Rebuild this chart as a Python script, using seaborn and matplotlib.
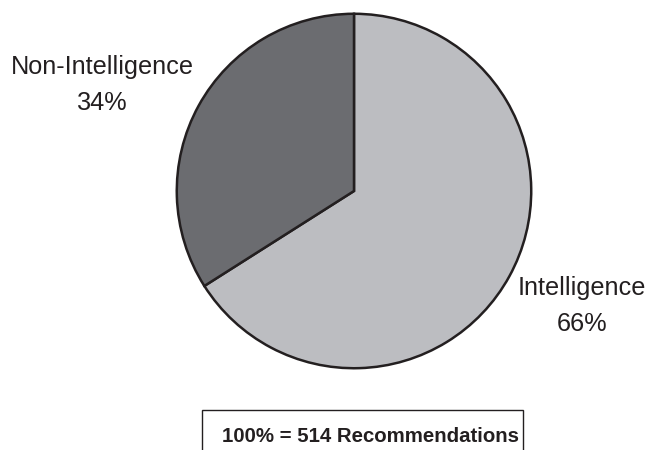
import matplotlib
matplotlib.use("Agg")
import matplotlib.pyplot as plt
import matplotlib.patches as mpatches
import seaborn as sns

categories = ["Intelligence", "Non-Intelligence"]
shares = [66, 34]
colors = ["#bcbdc1", "#6b6c70"]
total_note = "100% = 514 Recommendations"

sns.set_theme(style="white")
plt.rcParams["font.family"] = ["Liberation Sans", "DejaVu Sans"]

W, H = 651, 450
fig = plt.figure(figsize=(W / 100, H / 100), dpi=100)
cx, cy, r = 354, 191, 179
ax = fig.add_axes([(cx - r) / W, (H - cy - r) / H, 2 * r / W, 2 * r / H])
ax.pie(shares, colors=colors, startangle=90, counterclock=False,
       wedgeprops=dict(edgecolor="#231f20", linewidth=1.8))
ax.set_xlim(-1.01, 1.01)
ax.set_ylim(-1.01, 1.01)
ax.set_aspect("equal")
ax.axis("off")

def fx(x):
    return x / W

def fy(y):
    return 1 - y / H

fs = 18.2
fig.text(fx(102), fy(67), categories[1], ha="center", va="center",
         fontsize=fs, color="#231f20")
fig.text(fx(102), fy(103), f"{shares[1]}%", ha="center", va="center",
         fontsize=fs, color="#231f20")
fig.text(fx(582), fy(288), categories[0], ha="center", va="center",
         fontsize=fs, color="#231f20")
fig.text(fx(582), fy(324), f"{shares[0]}%", ha="center", va="center",
         fontsize=fs, color="#231f20")

rect = mpatches.Rectangle((fx(202), fy(470)), fx(523) - fx(202), fy(410) - fy(470),
                          transform=fig.transFigure, fill=False,
                          edgecolor="#231f20", linewidth=1.0)
fig.add_artist(rect)
fig.text(fx(370), fy(437), total_note, ha="center", va="center",
         fontsize=14.7, fontweight="bold", color="#231f20")

fig.savefig("out.png", dpi=100)
